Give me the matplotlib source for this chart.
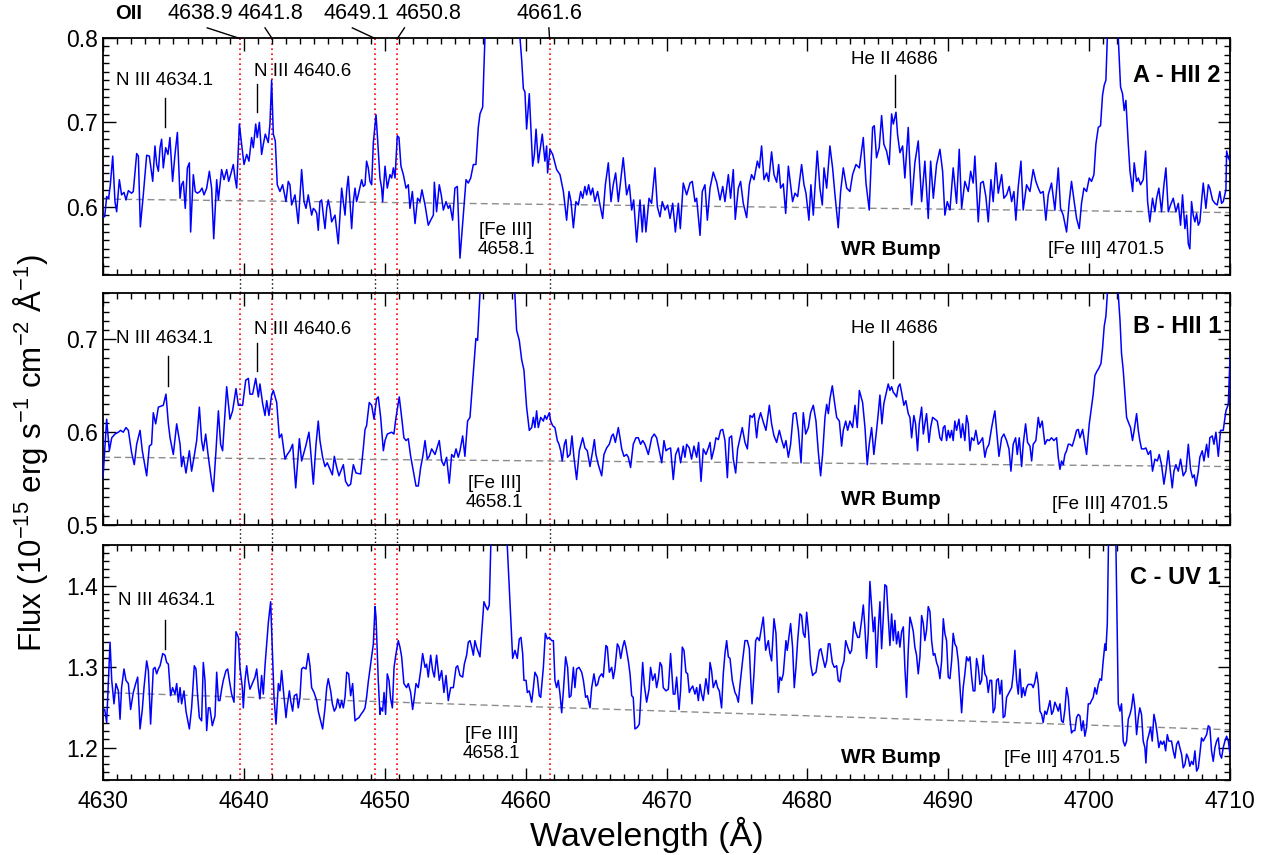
import numpy as np
import matplotlib
matplotlib.use("Agg")
import matplotlib.pyplot as plt
from matplotlib.ticker import MultipleLocator, FormatStrFormatter
from matplotlib.lines import Line2D
import matplotlib.transforms as mtransforms

plt.rcParams['font.family'] = ['Liberation Sans', 'DejaVu Sans']
plt.rcParams['mathtext.fontset'] = 'custom'
plt.rcParams['mathtext.rm'] = 'Liberation Sans'
plt.rcParams['mathtext.it'] = 'Liberation Sans'

# ---------------- data ----------------
wl_A = [4630.00,4630.12,4630.26,4630.40,4630.52,4630.69,4630.85,4630.97,4631.16,4631.32,4631.49,4631.63,4631.80,4632.03,4632.15,4632.39,4632.51,4632.65,4632.86,4633.10,4633.29,4633.53,4633.69,4633.81,4633.93,4634.05,4634.16,4634.28,4634.45,4634.61,4634.75,4634.94,4635.11,4635.28,4635.47,4635.58,4635.70,4635.84,4635.99,4636.13,4636.22,4636.41,4636.55,4636.70,4636.88,4637.03,4637.17,4637.36,4637.55,4637.71,4637.86,4638.07,4638.19,4638.42,4638.59,4638.78,4638.92,4639.06,4639.25,4639.37,4639.49,4639.68,4639.84,4640.01,4640.20,4640.36,4640.55,4640.67,4640.84,4640.95,4641.10,4641.26,4641.38,4641.52,4641.73,4641.85,4641.97,4642.09,4642.23,4642.37,4642.56,4642.75,4642.99,4643.15,4643.27,4643.39,4643.63,4643.86,4644.10,4644.27,4644.41,4644.57,4644.81,4644.93,4645.05,4645.17,4645.28,4645.40,4645.52,4645.64,4645.76,4645.88,4645.99,4646.11,4646.23,4646.47,4646.70,4646.94,4647.06,4647.18,4647.30,4647.41,4647.53,4647.65,4647.77,4647.89,4648.00,4648.12,4648.36,4648.48,4648.60,4648.71,4648.83,4648.95,4649.07,4649.19,4649.38,4649.50,4649.66,4649.78,4649.85,4650.02,4650.18,4650.37,4650.49,4650.61,4650.73,4650.89,4651.01,4651.15,4651.32,4651.51,4651.67,4651.79,4651.96,4652.15,4652.33,4652.50,4652.64,4652.86,4653.09,4653.26,4653.45,4653.52,4653.68,4653.87,4654.01,4654.16,4654.35,4654.51,4654.63,4654.82,4654.98,4655.15,4655.34,4655.58,4655.77,4655.93,4656.10,4656.29,4656.47,4656.64,4656.76,4656.95,4657.11,4658.35,
4659.60,4659.72,4659.84,4659.95,4660.07,4660.26,4660.50,4660.62,4660.74,4660.90,4661.18,4661.37,4661.49,4661.56,4661.73,4661.92,4662.20,4662.44,4662.68,4662.91,4663.08,4663.22,4663.39,4663.57,4663.74,4663.91,4664.05,4664.21,4664.33,4664.47,4664.62,4664.76,4664.92,4665.11,4665.28,4665.47,4665.66,4665.87,4666.06,4666.22,4666.39,4666.58,4666.74,4666.93,4667.17,4667.36,4667.53,4667.67,4667.88,4668.12,4668.28,4668.40,4668.54,4668.76,4668.94,4669.18,4669.35,4669.54,4669.70,4669.89,4670.08,4670.25,4670.44,4670.63,4670.84,4670.98,4671.19,4671.43,4671.67,4671.83,4672.02,4672.14,4672.38,4672.54,4672.73,4672.90,4673.09,4673.32,4673.56,4673.80,4673.99,4674.15,4674.39,4674.55,4674.74,4674.88,4675.10,4675.26,4675.45,4675.69,4675.88,4676.04,4676.21,4676.45,4676.59,4676.75,4676.92,4677.11,4677.25,4677.46,4677.63,4677.82,4677.96,4678.10,4678.29,4678.46,4678.65,4678.81,4678.95,4679.12,4679.31,4679.59,4679.76,4679.90,4680.11,4680.25,4680.42,4680.70,4680.89,4681.06,4681.18,4681.37,4681.60,4681.79,4681.96,4682.19,4682.36,4682.55,4682.79,4683.02,4683.21,4683.45,4683.69,
4683.97,4684.16,4684.39,4684.63,4684.75,4684.91,4685.10,4685.27,4685.43,4685.62,4685.81,4685.98,4686.10,4686.29,4686.40,4686.57,4686.76,4686.92,4687.16,4687.40,4687.63,4687.87,4688.11,4688.34,4688.58,4688.75,4688.94,4689.17,4689.41,4689.60,4689.76,4689.93,4690.12,4690.35,4690.59,4690.78,4690.95,4691.18,4691.42,4691.59,4691.77,4691.89,4692.13,4692.30,4692.48,4692.67,4692.84,4693.03,4693.19,4693.38,4693.55,4693.79,4693.95,4694.14,4694.33,4694.50,4694.66,4694.80,4694.97,4695.16,4695.32,4695.56,4695.80,4696.03,4696.22,4696.39,4696.55,4696.74,4696.93,4697.10,4697.33,4697.57,4697.81,4697.97,4698.16,4698.40,4698.59,4698.75,4698.94,4699.11,4699.30,4699.46,4699.63,4699.82,4700.01,4700.17,4700.34,4700.48,4700.65,4700.81,4700.95,4701.07,4701.19,4701.29,4701.65,4702.07,4702.23,4702.37,4702.49,4702.61,4702.78,4702.90,4703.09,4703.20,4703.37,4703.49,4703.65,4703.84,4704.01,4704.15,4704.31,4704.50,4704.67,4704.79,4704.95,4705.14,4705.31,4705.45,4705.62,4705.78,4705.97,4706.16,4706.33,4706.49,4706.63,4706.80,4706.92,4707.04,4707.15,4707.27,4707.39,4707.51,4707.63,4707.75,4707.86,4707.98,4708.10,4708.29,4708.46,4708.57,4708.76,4708.93,4709.09,4709.28,4709.40,4709.52,4709.71,4709.76,4709.88,4710.00]
flux_A = [0.589,0.588,0.612,0.610,0.626,0.660,0.606,0.594,0.632,0.614,0.617,0.608,0.619,0.616,0.618,0.663,0.660,0.576,0.614,0.661,0.660,0.630,0.672,0.650,0.642,0.670,0.680,0.646,0.670,0.662,0.682,0.630,0.662,0.688,0.610,0.626,0.630,0.598,0.646,0.652,0.570,0.638,0.618,0.616,0.618,0.622,0.614,0.622,0.642,0.622,0.562,0.632,0.608,0.644,0.632,0.644,0.630,0.638,0.650,0.634,0.622,0.698,0.674,0.650,0.662,0.654,0.682,0.670,0.698,0.682,0.700,0.662,0.674,0.686,0.676,0.698,0.750,0.686,0.678,0.626,0.618,0.626,0.606,0.630,0.626,0.602,0.614,0.580,0.644,0.606,0.598,0.614,0.590,0.598,0.596,0.592,0.572,0.606,0.608,0.590,0.574,0.598,0.608,0.598,0.582,0.590,0.556,0.622,0.606,0.590,0.620,0.636,0.606,0.574,0.606,0.622,0.606,0.614,0.632,0.624,0.626,0.654,0.646,0.630,0.626,0.676,0.709,0.678,0.634,0.622,0.606,0.648,0.622,0.638,0.634,0.646,0.634,0.684,0.682,0.648,0.638,0.622,0.626,0.598,0.618,0.580,0.610,0.606,0.620,0.602,0.578,0.584,0.590,0.629,0.594,0.626,0.614,0.596,0.606,0.598,0.602,0.584,0.622,0.624,0.539,0.590,0.632,0.628,0.634,0.650,0.650,0.694,0.710,0.718,0.800,1.050,
0.800,0.774,0.740,0.736,0.692,0.734,0.648,0.662,0.692,0.652,0.686,0.654,0.672,0.640,0.668,0.662,0.644,0.638,0.618,0.584,0.618,0.606,0.575,0.606,0.602,0.618,0.610,0.624,0.614,0.626,0.614,0.622,0.606,0.618,0.602,0.586,0.626,0.652,0.606,0.626,0.640,0.606,0.630,0.658,0.614,0.626,0.596,0.608,0.558,0.608,0.570,0.602,0.570,0.610,0.604,0.646,0.600,0.588,0.606,0.596,0.602,0.586,0.604,0.570,0.604,0.574,0.628,0.614,0.628,0.630,0.606,0.610,0.566,0.618,0.626,0.584,0.622,0.641,0.629,0.608,0.624,0.606,0.638,0.610,0.644,0.585,0.622,0.630,0.604,0.587,0.626,0.638,0.632,0.654,0.646,0.672,0.632,0.640,0.630,0.665,0.638,0.629,0.650,0.622,0.627,0.592,0.648,0.626,0.606,0.616,0.612,0.650,0.626,0.616,0.584,0.626,0.590,0.666,0.622,0.602,0.646,0.622,0.672,0.646,0.614,0.575,0.618,0.646,0.622,0.618,0.638,0.650,0.646,
0.682,0.628,0.596,0.694,0.696,0.658,0.670,0.708,0.674,0.666,0.650,0.710,0.698,0.712,0.686,0.664,0.672,0.634,0.694,0.602,0.652,0.678,0.606,0.654,0.586,0.654,0.610,0.650,0.668,0.642,0.590,0.606,0.596,0.646,0.604,0.668,0.598,0.630,0.618,0.642,0.628,0.660,0.582,0.628,0.630,0.612,0.582,0.632,0.606,0.652,0.616,0.638,0.610,0.614,0.624,0.606,0.618,0.584,0.624,0.654,0.596,0.626,0.618,0.644,0.630,0.622,0.616,0.618,0.584,0.614,0.628,0.596,0.646,0.598,0.590,0.570,0.606,0.630,0.606,0.586,0.574,0.604,0.622,0.618,0.634,0.630,0.638,0.674,0.694,0.696,0.732,0.744,0.750,0.800,1.000,0.800,0.742,0.734,0.714,0.726,0.674,0.642,0.618,0.652,0.630,0.634,0.626,0.632,0.666,0.606,0.582,0.610,0.594,0.610,0.622,0.594,0.626,0.646,0.594,0.602,0.610,0.594,0.604,0.578,0.614,0.574,0.590,0.556,0.550,0.606,0.590,0.582,0.592,0.578,0.582,0.606,0.628,0.598,0.626,0.622,0.608,0.604,0.602,0.618,0.604,0.606,0.620,0.666,0.658,0.654]

wl_B = [4630.00,4630.26,4630.45,4630.62,4630.85,4631.09,4631.25,4631.44,4631.63,4631.80,4632.03,4632.22,4632.39,4632.63,4632.79,4633.10,4633.29,4633.45,4633.57,4633.74,4633.93,4634.28,4634.47,4634.64,4634.76,4634.99,4635.23,4635.47,4635.58,4635.70,4635.89,4636.13,4636.29,4636.46,4636.65,4636.84,4637.00,4637.12,4637.29,4637.48,4637.71,4637.83,4638.02,4638.19,4638.35,4638.49,4638.61,4638.78,4639.01,4639.20,4639.44,4639.61,4639.91,4640.13,4640.32,4640.43,4640.62,4640.84,4641.03,4641.14,4641.33,4641.50,4641.62,4641.78,4641.97,4642.09,4642.33,4642.52,4642.68,4642.92,4643.08,4643.27,4643.46,4643.68,4643.94,4644.10,4644.39,4644.62,4644.74,4644.93,4645.12,4645.28,4645.40,4645.59,4645.76,4645.92,4646.11,4646.28,4646.42,4646.59,4646.75,4647.06,4647.22,4647.41,4647.58,4647.77,4647.96,4648.29,4648.48,4648.60,4648.71,4648.90,4649.07,4649.24,4649.42,4649.54,4649.71,4649.90,4650.02,4650.18,4650.49,4650.65,4650.80,4651.03,4651.20,4651.36,4651.51,4651.67,4651.84,4652.03,4652.22,4652.38,4652.55,4652.69,4652.86,4653.02,4653.16,4653.33,4653.57,4653.87,4654.04,4654.20,4654.39,4654.58,4654.75,4654.91,4655.06,4655.22,4655.34,4655.53,4655.69,4655.88,4656.05,4656.28,4656.47,4656.59,4656.76,4658.00,
4659.24,4659.36,4659.55,4659.72,4659.88,4660.07,4660.26,4660.43,4660.55,4660.66,4660.78,4660.90,4661.07,4661.26,4661.37,4661.49,4661.68,4661.78,4661.92,4662.08,4662.25,4662.37,4662.49,4662.60,4662.75,4662.86,4662.98,4663.15,4663.29,4663.43,4663.62,4663.81,4664.05,4664.21,4664.38,4664.57,4664.76,4664.88,4664.99,4665.16,4665.40,4665.56,4665.75,4665.94,4666.11,4666.22,4666.37,4666.58,4666.70,4666.82,4666.98,4667.17,4667.29,4667.45,4667.64,4667.83,4668.00,4668.16,4668.31,4668.47,4668.71,4668.95,4669.13,4669.30,4669.49,4669.66,4669.82,4669.96,4670.13,4670.29,4670.48,4670.65,4670.84,4671.00,4671.19,4671.31,4671.43,4671.62,4671.78,4671.95,4672.14,4672.28,4672.45,4672.61,4672.80,4672.97,4673.09,4673.20,4673.39,4673.51,4673.68,4673.84,4673.99,4674.15,4674.32,4674.46,4674.62,4674.74,4674.91,4675.05,4675.22,4675.38,4675.57,4675.74,4675.93,4676.09,4676.23,4676.40,4676.52,4676.68,4676.87,4677.06,4677.30,4677.46,4677.63,4677.82,4678.01,4678.17,4678.34,4678.48,4678.65,4678.81,4679.00,4679.19,4679.36,4679.55,4679.71,4679.88,4680.07,4680.23,4680.42,4680.61,4680.78,4680.94,4681.08,4681.25,4681.37,4681.49,4681.60,4681.77,4681.91,4682.08,4682.27,4682.43,4682.55,4682.72,4682.86,4683.02,4683.21,4683.38,4683.54,4683.69,
4683.92,4684.09,4684.25,4684.39,4684.56,4684.72,4684.91,4685.03,4685.15,4685.29,4685.43,4685.58,4685.74,4685.86,4685.98,4686.10,4686.21,4686.33,4686.45,4686.57,4686.69,4686.85,4686.99,4687.16,4687.28,4687.40,4687.56,4687.68,4687.82,4687.94,4688.11,4688.23,4688.34,4688.46,4688.63,4688.75,4688.89,4689.05,4689.22,4689.41,4689.53,4689.65,4689.76,4689.88,4690.00,4690.12,4690.24,4690.35,4690.47,4690.59,4690.76,4690.90,4691.02,4691.18,4691.30,4691.42,4691.54,4691.66,4691.82,4691.96,4692.13,4692.25,4692.44,4692.60,4692.72,4692.89,4693.08,4693.19,4693.31,4693.43,4693.60,4693.79,4693.95,4694.14,4694.31,4694.45,4694.61,4694.78,4694.90,4695.04,4695.21,4695.32,4695.49,4695.63,4695.80,4695.92,4696.03,4696.22,4696.39,4696.51,4696.67,4696.86,4697.03,4697.17,4697.33,4697.50,4697.69,4697.81,4697.93,4698.04,4698.16,4698.28,4698.40,4698.52,4698.64,4698.80,4698.92,4699.11,4699.23,4699.35,4699.54,4699.70,4699.82,4700.01,4700.17,4700.29,4700.41,4700.53,4700.69,4700.84,4700.95,4701.07,4701.19,4701.29,4701.65,4702.07,4702.19,4702.30,4702.42,4702.54,4702.66,4702.78,4702.94,4703.08,4703.20,4703.37,4703.49,4703.60,4703.72,4703.89,4704.03,4704.20,4704.36,4704.50,4704.67,4704.84,4704.98,4705.14,4705.31,4705.45,4705.62,4705.73,4705.90,4706.02,4706.16,4706.33,4706.49,4706.68,4706.87,4707.04,4707.20,4707.34,4707.46,4707.58,4707.75,4707.86,4708.03,4708.15,4708.34,4708.46,4708.57,4708.74,4708.86,4709.00,4709.17,4709.33,4709.52,4709.71,4709.88,4710.00]
flux_B = [0.551,0.614,0.580,0.594,0.598,0.600,0.602,0.600,0.605,0.602,0.578,0.565,0.587,0.602,0.580,0.553,0.585,0.587,0.621,0.609,0.627,0.629,0.641,0.609,0.594,0.576,0.609,0.587,0.563,0.574,0.556,0.580,0.558,0.573,0.591,0.627,0.591,0.580,0.598,0.573,0.547,0.536,0.580,0.623,0.587,0.580,0.609,0.649,0.614,0.623,0.647,0.629,0.629,0.656,0.658,0.641,0.641,0.658,0.638,0.652,0.631,0.618,0.634,0.618,0.640,0.645,0.632,0.594,0.598,0.571,0.576,0.580,0.587,0.540,0.593,0.569,0.585,0.600,0.580,0.544,0.587,0.612,0.591,0.573,0.563,0.567,0.560,0.554,0.574,0.562,0.553,0.565,0.547,0.542,0.544,0.565,0.556,0.555,0.583,0.603,0.607,0.632,0.629,0.614,0.636,0.638,0.616,0.580,0.591,0.598,0.600,0.598,0.616,0.638,0.616,0.594,0.591,0.593,0.574,0.558,0.542,0.542,0.562,0.573,0.591,0.571,0.574,0.582,0.576,0.591,0.569,0.564,0.573,0.545,0.576,0.573,0.582,0.573,0.580,0.596,0.574,0.612,0.616,0.663,0.701,0.699,0.750,1.000,
0.748,0.710,0.699,0.678,0.667,0.627,0.602,0.605,0.616,0.605,0.623,0.605,0.616,0.612,0.618,0.614,0.621,0.612,0.607,0.605,0.591,0.587,0.580,0.569,0.587,0.592,0.573,0.576,0.596,0.573,0.549,0.580,0.594,0.583,0.580,0.563,0.580,0.592,0.576,0.565,0.553,0.576,0.583,0.587,0.596,0.598,0.589,0.605,0.594,0.582,0.574,0.576,0.573,0.562,0.587,0.594,0.594,0.587,0.591,0.587,0.576,0.594,0.598,0.594,0.580,0.567,0.591,0.580,0.582,0.583,0.549,0.576,0.583,0.567,0.585,0.573,0.587,0.583,0.571,0.585,0.573,0.589,0.547,0.582,0.576,0.583,0.589,0.571,0.583,0.594,0.592,0.602,0.603,0.591,0.551,0.594,0.596,0.571,0.556,0.582,0.594,0.605,0.589,0.582,0.618,0.616,0.620,0.594,0.612,0.621,0.611,0.602,0.629,0.609,0.596,0.589,0.602,0.592,0.583,0.591,0.573,0.587,0.620,0.621,0.602,0.567,0.621,0.598,0.605,0.621,0.629,0.612,0.578,0.553,0.576,0.616,0.630,0.620,0.636,0.650,0.634,0.616,0.612,0.585,0.602,0.612,0.602,0.612,0.605,0.629,0.605,0.645,
0.632,0.605,0.565,0.587,0.605,0.576,0.602,0.620,0.640,0.609,0.631,0.641,0.652,0.645,0.649,0.643,0.641,0.638,0.649,0.652,0.643,0.629,0.634,0.620,0.616,0.594,0.618,0.609,0.580,0.609,0.627,0.598,0.609,0.620,0.589,0.605,0.616,0.614,0.612,0.594,0.591,0.605,0.607,0.591,0.602,0.594,0.602,0.591,0.612,0.602,0.614,0.594,0.609,0.591,0.618,0.609,0.580,0.594,0.591,0.602,0.587,0.589,0.594,0.573,0.582,0.587,0.605,0.614,0.623,0.602,0.574,0.594,0.598,0.591,0.582,0.558,0.587,0.594,0.576,0.594,0.563,0.587,0.609,0.589,0.585,0.569,0.587,0.591,0.616,0.605,0.612,0.587,0.592,0.591,0.594,0.591,0.594,0.573,0.560,0.569,0.565,0.576,0.580,0.587,0.587,0.585,0.591,0.602,0.603,0.594,0.603,0.587,0.576,0.609,0.627,0.641,0.661,0.665,0.669,0.674,0.690,0.714,0.725,0.748,0.950,0.748,0.721,0.685,0.667,0.641,0.616,0.611,0.605,0.591,0.602,0.620,0.602,0.591,0.582,0.582,0.583,0.576,0.580,0.558,0.571,0.569,0.576,0.565,0.544,0.558,0.580,0.563,0.540,0.558,0.565,0.558,0.571,0.553,0.558,0.587,0.560,0.551,0.554,0.542,0.558,0.573,0.580,0.569,0.587,0.573,0.594,0.596,0.587,0.600,0.574,0.602,0.602,0.623,0.630,0.681]

wl_C = [4630.00,4630.12,4630.26,4630.50,4630.62,4630.78,4630.92,4631.09,4631.21,4631.32,4631.49,4631.63,4631.80,4631.96,4632.15,4632.32,4632.46,4632.63,4632.79,4632.91,4633.10,4633.22,4633.38,4633.57,4633.69,4633.81,4633.93,4634.05,4634.24,4634.40,4634.52,4634.64,4634.80,4634.94,4635.11,4635.23,4635.35,4635.47,4635.58,4635.75,4635.89,4636.13,4636.29,4636.48,4636.60,4636.70,4636.84,4637.00,4637.12,4637.24,4637.36,4637.48,4637.59,4637.76,4637.95,4638.07,4638.19,4638.30,4638.42,4638.54,4638.73,4638.85,4638.97,4639.13,4639.30,4639.44,4639.61,4639.72,4639.89,4639.96,4640.08,4640.20,4640.32,4640.43,4640.60,4640.79,4640.91,4641.03,4641.14,4641.26,4641.38,4641.50,4641.62,4641.74,4641.90,4642.02,4642.14,4642.28,4642.45,4642.56,4642.68,4642.85,4642.99,4643.08,4643.23,4643.32,4643.46,4643.58,4643.75,4643.86,4643.98,4644.10,4644.22,4644.41,4644.57,4644.69,4644.81,4644.98,4645.17,4645.28,4645.45,4645.59,4645.76,4645.88,4645.99,4646.16,4646.28,4646.42,4646.54,4646.66,4646.82,4646.94,4647.06,4647.18,4647.30,4647.44,4647.58,4647.72,4647.89,4648.00,4648.17,4648.31,4648.48,4648.60,4648.71,4648.83,4648.95,4649.07,4649.19,4649.31,4649.38,4649.54,4649.66,4649.73,4649.85,4649.95,4650.06,4650.18,4650.30,4650.42,4650.54,4650.66,4650.80,4650.96,4651.08,4651.20,4651.36,4651.55,4651.67,4651.84,4651.98,4652.10,4652.22,4652.38,4652.55,4652.69,4652.86,4652.97,4653.09,4653.26,4653.40,4653.52,4653.68,4653.87,4654.04,4654.20,4654.35,4654.51,4654.68,4654.87,4655.06,4655.17,4655.34,4655.53,4655.65,4655.81,4655.93,4656.05,4656.17,4656.29,4656.40,4656.52,4656.76,4656.88,4657.04,4657.18,4657.30,4657.42,4657.52,4658.10,
4658.70,4659.08,4659.24,4659.41,4659.55,4659.67,4659.79,4659.88,4660.03,4660.12,4660.26,4660.43,4660.55,4660.66,4660.83,4660.97,4661.07,4661.26,4661.40,4661.54,4661.68,4661.85,4661.97,4662.08,4662.20,4662.32,4662.44,4662.56,4662.68,4662.84,4662.98,4663.10,4663.22,4663.39,4663.50,4663.62,4663.79,4663.98,4664.10,4664.26,4664.38,4664.57,4664.69,4664.85,4664.99,4665.11,4665.23,4665.40,4665.51,4665.70,4665.80,4665.94,4666.11,4666.22,4666.34,4666.51,4666.63,4666.75,4666.89,4667.01,4667.12,4667.29,4667.41,4667.53,4667.64,4667.76,4667.93,4668.07,4668.19,4668.31,4668.42,4668.59,4668.76,4668.87,4669.02,4669.18,4669.30,4669.42,4669.54,4669.66,4669.77,4669.96,4670.13,4670.29,4670.48,4670.60,4670.72,4670.89,4671.00,4671.12,4671.24,4671.38,4671.50,4671.62,4671.71,4671.86,4672.02,4672.14,4672.26,4672.38,4672.49,4672.61,4672.80,4672.97,4673.09,4673.20,4673.32,4673.51,4673.63,4673.75,4673.91,4674.03,4674.15,4674.27,4674.39,4674.51,4674.67,4674.86,4674.98,4675.10,4675.22,4675.40,4675.57,4675.74,4675.88,4675.97,4676.07,4676.21,4676.33,4676.45,4676.59,4676.75,4676.87,4677.04,4677.23,4677.34,4677.46,4677.63,4677.77,4677.94,4678.05,4678.17,4678.29,4678.48,4678.57,4678.69,4678.81,4678.95,4679.07,4679.19,4679.31,4679.47,4679.59,4679.71,4679.83,4679.95,4680.07,4680.23,4680.37,4680.47,4680.61,4680.73,4680.85,4680.96,4681.08,4681.25,4681.37,4681.49,4681.60,4681.77,4681.91,4682.08,4682.19,4682.31,4682.43,4682.60,4682.72,4682.86,4683.02,4683.14,4683.31,4683.43,4683.57,4683.69,
4683.85,4683.97,4684.08,4684.20,4684.32,4684.44,4684.56,4684.68,4684.79,4684.91,4685.03,4685.15,4685.27,4685.39,4685.50,4685.62,4685.74,4685.86,4685.98,4686.10,4686.21,4686.33,4686.45,4686.57,4686.69,4686.81,4686.92,4687.04,4687.16,4687.28,4687.40,4687.52,4687.63,4687.75,4687.87,4687.99,4688.11,4688.23,4688.34,4688.46,4688.58,4688.70,4688.82,4688.94,4689.05,4689.17,4689.29,4689.41,4689.53,4689.65,4689.76,4689.88,4690.00,4690.12,4690.24,4690.35,4690.47,4690.59,4690.71,4690.83,4690.95,4691.06,4691.18,4691.30,4691.42,4691.54,4691.66,4691.77,4691.89,4692.01,4692.13,4692.25,4692.37,4692.48,4692.60,4692.72,4692.84,4692.96,4693.08,4693.19,4693.31,4693.43,4693.55,4693.67,4693.79,4693.90,4694.02,4694.14,4694.26,4694.38,4694.50,4694.61,4694.73,4694.85,4694.97,4695.09,4695.21,4695.32,4695.44,4695.56,4695.68,4695.80,4695.92,4696.03,4696.15,4696.27,4696.39,4696.51,4696.63,4696.74,4696.86,4696.98,4697.10,4697.22,4697.34,4697.45,4697.57,4697.69,4697.81,4697.93,4698.04,4698.16,4698.28,4698.40,4698.52,4698.64,4698.75,4698.87,4698.99,4699.11,4699.23,4699.35,4699.46,4699.58,4699.70,4699.82,4699.94,4700.06,4700.17,4700.29,4700.41,4700.53,4700.65,4700.77,4700.88,4701.00,4701.12,4701.19,4701.29,4701.36,4701.65,4701.90,4701.95,4702.00,4702.07,4702.19,4702.30,4702.42,4702.54,4702.66,4702.78,4702.90,4703.01,4703.13,4703.25,4703.37,4703.49,4703.60,4703.72,4703.84,4703.96,4704.03,4704.12,4704.24,4704.36,4704.48,4704.60,4704.72,4704.84,4704.95,4705.07,4705.19,4705.31,4705.43,4705.55,4705.66,4705.85,4705.97,4706.09,4706.21,4706.33,4706.44,4706.56,4706.68,4706.80,4706.92,4707.04,4707.15,4707.27,4707.39,4707.51,4707.63,4707.75,4707.86,4707.98,4708.10,4708.22,4708.34,4708.46,4708.57,4708.69,4708.81,4708.93,4709.05,4709.17,4709.28,4709.40,4709.52,4709.64,4709.76,4709.88,4710.00]
flux_C = [1.247,1.247,1.231,1.330,1.283,1.254,1.279,1.270,1.235,1.274,1.297,1.283,1.279,1.247,1.268,1.279,1.287,1.223,1.247,1.274,1.307,1.295,1.229,1.297,1.299,1.291,1.297,1.301,1.316,1.314,1.305,1.303,1.264,1.274,1.266,1.279,1.256,1.274,1.254,1.270,1.245,1.223,1.249,1.301,1.297,1.268,1.237,1.233,1.305,1.283,1.221,1.249,1.249,1.227,1.239,1.293,1.258,1.258,1.272,1.283,1.295,1.297,1.283,1.266,1.256,1.343,1.336,1.299,1.274,1.249,1.283,1.301,1.283,1.272,1.279,1.287,1.297,1.274,1.260,1.289,1.266,1.301,1.328,1.355,1.380,1.320,1.262,1.229,1.279,1.270,1.295,1.262,1.237,1.252,1.270,1.258,1.245,1.264,1.266,1.249,1.262,1.297,1.299,1.297,1.316,1.301,1.274,1.268,1.258,1.245,1.233,1.223,1.249,1.274,1.285,1.270,1.254,1.245,1.249,1.260,1.249,1.258,1.249,1.262,1.293,1.291,1.264,1.279,1.233,1.235,1.237,1.241,1.245,1.249,1.262,1.281,1.297,1.314,1.328,1.374,1.361,1.283,1.241,1.249,1.245,1.268,1.241,1.291,1.283,1.260,1.249,1.299,1.316,1.332,1.324,1.312,1.279,1.274,1.279,1.268,1.247,1.262,1.279,1.274,1.295,1.316,1.299,1.303,1.287,1.314,1.295,1.287,1.314,1.283,1.295,1.268,1.289,1.258,1.274,1.274,1.299,1.301,1.289,1.287,1.303,1.314,1.330,1.332,1.324,1.314,1.332,1.324,1.312,1.341,1.380,1.374,1.370,1.376,1.444,1.900,
1.448,1.310,1.320,1.310,1.334,1.336,1.316,1.283,1.283,1.268,1.270,1.256,1.274,1.293,1.287,1.264,1.262,1.299,1.341,1.334,1.336,1.332,1.332,1.283,1.274,1.283,1.266,1.243,1.270,1.312,1.299,1.262,1.264,1.299,1.274,1.297,1.299,1.293,1.283,1.262,1.264,1.249,1.274,1.291,1.276,1.278,1.287,1.291,1.287,1.326,1.324,1.293,1.299,1.285,1.297,1.328,1.324,1.310,1.324,1.332,1.324,1.307,1.291,1.264,1.262,1.223,1.225,1.229,1.266,1.305,1.278,1.256,1.272,1.299,1.283,1.291,1.274,1.285,1.305,1.301,1.274,1.270,1.272,1.316,1.266,1.266,1.287,1.247,1.270,1.324,1.320,1.293,1.291,1.268,1.272,1.276,1.266,1.274,1.258,1.278,1.266,1.258,1.285,1.266,1.305,1.295,1.274,1.283,1.274,1.270,1.249,1.291,1.316,1.332,1.312,1.310,1.283,1.268,1.264,1.256,1.278,1.307,1.332,1.332,1.322,1.287,1.254,1.291,1.332,1.336,1.332,1.349,1.361,1.320,1.332,1.316,1.307,1.359,1.341,1.268,1.287,1.283,1.291,1.332,1.320,1.336,1.353,1.324,1.274,1.299,1.332,1.365,1.363,1.341,1.336,1.367,1.345,1.303,1.289,1.291,1.293,1.307,1.320,1.322,1.312,1.299,1.307,1.328,1.328,1.305,1.299,1.301,1.283,1.281,1.297,1.307,1.332,1.324,1.316,1.320,1.355,1.343,1.336,1.336,
1.357,1.376,1.349,1.310,1.341,1.405,1.374,1.343,1.361,1.299,1.345,1.380,1.322,1.361,1.401,1.399,1.361,1.326,1.365,1.332,1.357,1.328,1.343,1.324,1.343,1.349,1.299,1.262,1.320,1.361,1.353,1.343,1.324,1.314,1.291,1.312,1.363,1.353,1.332,1.345,1.374,1.368,1.332,1.314,1.316,1.305,1.299,1.285,1.307,1.359,1.341,1.332,1.287,1.285,1.307,1.341,1.328,1.324,1.307,1.274,1.243,1.274,1.291,1.312,1.307,1.312,1.287,1.270,1.270,1.310,1.299,1.278,1.283,1.314,1.291,1.287,1.268,1.283,1.283,1.243,1.249,1.283,1.285,1.266,1.283,1.237,1.239,1.262,1.266,1.270,1.274,1.291,1.320,1.283,1.266,1.297,1.262,1.274,1.264,1.274,1.278,1.278,1.278,1.274,1.281,1.293,1.278,1.245,1.241,1.231,1.245,1.241,1.249,1.258,1.241,1.245,1.256,1.251,1.245,1.254,1.233,1.231,1.247,1.274,1.262,1.235,1.218,1.221,1.221,1.237,1.241,1.239,1.221,1.233,1.214,1.225,1.254,1.254,1.258,1.262,1.274,1.266,1.278,1.285,1.283,1.307,1.328,1.320,1.353,1.436,1.800,1.452,1.394,1.328,1.254,1.245,1.254,1.208,1.202,1.208,1.235,1.241,1.249,1.266,1.249,1.216,1.237,1.249,1.241,1.208,1.200,1.181,1.208,1.216,1.225,1.208,1.241,1.231,1.216,1.200,1.208,1.204,1.208,1.196,1.216,1.208,1.208,1.196,1.187,1.204,1.208,1.200,1.192,1.175,1.179,1.192,1.187,1.177,1.183,1.179,1.196,1.171,1.175,1.192,1.212,1.208,1.212,1.216,1.227,1.225,1.196,1.183,1.200,1.208,1.212,1.192,1.187,1.200,1.208,1.214,1.208,1.192]

# continuum fits (wavelength endpoints, flux)
cont_wl = [4630.0, 4710.0]
cont_A = [0.609, 0.593]
cont_B = [0.573, 0.563]
cont_C = [1.268, 1.222]

# OII line positions (observed) and labels
oii_pos = [4639.7, 4642.0, 4649.3, 4650.9, 4661.7]
oii_labels = ['4638.9', '4641.8', '4649.1', '4650.8', '4661.6']
oii_text_x = [4636.9, 4641.9, 4648.0, 4653.1, 4661.7]
oii_lead_x = [4637.4, 4641.5, 4647.7, 4651.4, 4661.65]

panel_names = ['A - HII 2', 'B - HII 1', 'C - UV 1']
panel_name_y = [0.843, 0.857, 0.86]
ylims = [(0.519, 0.80), (0.50, 0.75), (1.16, 1.45)]
yticks = [[0.6, 0.7, 0.8], [0.5, 0.6, 0.7], [1.2, 1.3, 1.4]]

# ---------------- figure ----------------
fig = plt.figure(figsize=(12.64, 8.55), dpi=100)
L, R = 103/1264, 1230/1264
tops = [1-38/855, 1-293/855, 1-545/855]
bots = [1-275/855, 1-525/855, 1-780/855]
axes = [fig.add_axes([L, b, R-L, t-b]) for t, b in zip(tops, bots)]

data = [(wl_A, flux_A, cont_A), (wl_B, flux_B, cont_B), (wl_C, flux_C, cont_C)]
for i, ax in enumerate(axes):
    wl, fl, cont = data[i]
    ax.plot(cont_wl, cont, color='#8c8c8c', lw=1.0, ls=(0, (5, 3)), zorder=2)
    ax.plot(wl, fl, color='#0000ff', lw=1.1, zorder=3)
    for p in oii_pos:
        ax.axvline(p, color='red', ls=(0, (1, 2)), lw=1.2, zorder=1)
    ax.set_xlim(4630, 4710)
    ax.set_ylim(*ylims[i])
    ax.xaxis.set_major_locator(MultipleLocator(10))
    ax.xaxis.set_minor_locator(MultipleLocator(1))
    ax.set_yticks(yticks[i])
    ax.yaxis.set_minor_locator(MultipleLocator(0.01))
    ax.yaxis.set_major_formatter(FormatStrFormatter('%.1f'))
    ax.tick_params(which='both', direction='in', top=True, right=True, labelsize=16.5, width=1.0)
    ax.tick_params(which='major', length=9)
    ax.tick_params(which='minor', length=4.5)
    ax.tick_params(axis='x', pad=7)
    for s in ax.spines.values():
        s.set_linewidth(1.3)
    if i < 2:
        ax.tick_params(labelbottom=False)
    ax.text(0.992, panel_name_y[i], panel_names[i],
            transform=ax.transAxes, ha='right', va='center', fontsize=17, fontweight='bold')

# black dotted guide lines between panels
tr = mtransforms.blended_transform_factory(axes[0].transData, fig.transFigure)
for p in oii_pos:
    fig.add_artist(Line2D([p, p], [bots[2], tops[0]], transform=tr, color='black',
                          ls=(0, (1, 2)), lw=1.0, zorder=-1))

axA, axB, axC = axes
fs = 13.5
wrfs = 15
# Panel A annotations
axA.text(4634.4, 0.750, 'N III 4634.1', ha='center', va='center', fontsize=fs)
axA.plot([4634.4, 4634.4], [0.695, 0.729], color='black', lw=1)
axA.text(4640.75, 0.760, 'N III 4640.6', ha='left', va='center', fontsize=fs)
axA.plot([4640.93, 4640.93], [0.712, 0.745], color='black', lw=1)
axA.text(4658.6, 0.560, '[Fe III]\n4658.1', ha='center', va='center', fontsize=fs, linespacing=1.15)
axA.text(4686.2, 0.774, 'He II 4686', ha='center', va='center', fontsize=fs)
axA.plot([4686.2, 4686.2], [0.718, 0.756], color='black', lw=1)
axA.text(4685.9, 0.549, 'WR Bump', ha='center', va='center', fontsize=wrfs, fontweight='bold')
axA.text(4701.2, 0.549, '[Fe III] 4701.5', ha='center', va='center', fontsize=fs)

# Panel B annotations
axB.text(4634.4, 0.701, 'N III 4634.1', ha='center', va='center', fontsize=fs)
axB.plot([4634.6, 4634.6], [0.650, 0.682], color='black', lw=1)
axB.text(4640.75, 0.711, 'N III 4640.6', ha='left', va='center', fontsize=fs)
axB.plot([4640.93, 4640.93], [0.666, 0.696], color='black', lw=1)
axB.text(4657.8, 0.534, '[Fe III]\n4658.1', ha='center', va='center', fontsize=fs, linespacing=1.15)
axB.text(4686.2, 0.712, 'He II 4686', ha='center', va='center', fontsize=fs)
axB.plot([4686.1, 4686.1], [0.658, 0.698], color='black', lw=1)
axB.text(4685.9, 0.527, 'WR Bump', ha='center', va='center', fontsize=wrfs, fontweight='bold')
axB.text(4701.5, 0.522, '[Fe III] 4701.5', ha='center', va='center', fontsize=fs)

# Panel C annotations
axC.text(4634.5, 1.381, 'N III 4634.1', ha='center', va='center', fontsize=fs)
axC.plot([4634.4, 4634.4], [1.322, 1.358], color='black', lw=1)
axC.text(4657.6, 1.204, '[Fe III]\n4658.1', ha='center', va='center', fontsize=fs, linespacing=1.15)
axC.text(4685.9, 1.188, 'WR Bump', ha='center', va='center', fontsize=wrfs, fontweight='bold')
axC.text(4698.1, 1.186, '[Fe III] 4701.5', ha='center', va='center', fontsize=fs)

# OII labels above panel A
axA.text(4631.8, 0.829, 'OII', ha='center', va='center', fontsize=14.5, fontweight='bold', clip_on=False)
for lab, tx, lx, p in zip(oii_labels, oii_text_x, oii_lead_x, oii_pos):
    axA.text(tx, 0.829, lab, ha='center', va='center', fontsize=15.5, clip_on=False)
    axA.plot([lx, p], [0.812, 0.7995], color='black', lw=1, clip_on=False)

fig.text(0.512, 0.024, 'Wavelength (Å)', ha='center', va='center', fontsize=24.5)
fig.text(0.024, 0.47, r'Flux (10$^{-15}$ erg s$^{-1}$ cm$^{-2}$ Å$^{-1}$)', rotation=90,
         ha='center', va='center', fontsize=22.5)

fig.savefig('out.png', dpi=100)
